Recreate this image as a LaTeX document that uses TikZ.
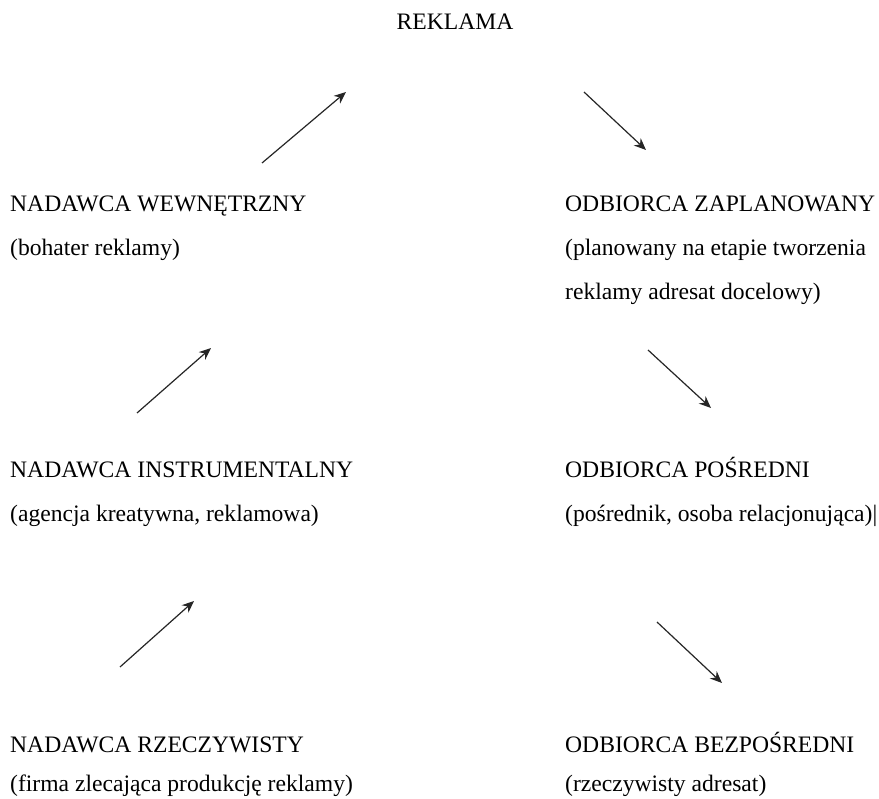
\documentclass[tikz,border=0pt]{standalone}
\usepackage{fontspec}
\setmainfont{Liberation Serif}
\usetikzlibrary{arrows.meta}

\def\xLeft{10}
\def\xRight{565}
\def\lineSkip{44}

\tikzset{
  label text/.style={anchor=base west, inner sep=0pt, font=\fontsize{23.6}{27}\selectfont},
  flow/.style={-{Stealth[length=12pt,width=10pt]}, line width=1.2pt, draw=black!85}
}

\begin{document}
\begin{tikzpicture}[x=1pt, y=-1pt]
      \useasboundingbox (0,0) rectangle (879,799);
      \fill[white] (0,0) rectangle (879,799);

      % title
      \node[label text, anchor=base] (reklama) at (455,30) {REKLAMA};

      % senders
      \node[label text] (nadWew) at (\xLeft,212) {NADAWCA WEWNĘTRZNY};
      \node[label text] (nadWewOpis) at (\xLeft,212+\lineSkip) {(bohater reklamy)};
      \node[label text] (nadIns) at (\xLeft,478) {NADAWCA INSTRUMENTALNY};
      \node[label text] (nadInsOpis) at (\xLeft,478+\lineSkip) {(agencja kreatywna, reklamowa)};
      \node[label text] (nadRze) at (\xLeft,752) {NADAWCA RZECZYWISTY};
      \node[label text] (nadRzeOpis) at (\xLeft,752+\lineSkip-5) {(firma zlecająca produkcję reklamy)};

      % receivers
      \node[label text] (odbZap) at (\xRight,212) {ODBIORCA ZAPLANOWANY};
      \node[label text] (odbZapOpis) at (\xRight,212+\lineSkip) {(planowany na etapie tworzenia};
      \node[label text] (odbZapOpisB) at (\xRight,212+2*\lineSkip) {reklamy adresat docelowy)};
      \node[label text] (odbPos) at (\xRight,478) {ODBIORCA POŚREDNI};
      \node[label text] (odbPosOpis) at (\xRight,478+\lineSkip) {(pośrednik, osoba relacjonująca)|};
      \node[label text] (odbBez) at (\xRight,752) {ODBIORCA BEZPOŚREDNI};
      \node[label text] (odbBezOpis) at (\xRight,752+\lineSkip-5) {(rzeczywisty adresat)};

      % arrow ends
      \coordinate (a1) at (262,163);  \coordinate (b1) at (346,92);
      \coordinate (a2) at (584,92);   \coordinate (b2) at (646,150);
      \coordinate (a3) at (137,413);  \coordinate (b3) at (211,348);
      \coordinate (a4) at (648,350);  \coordinate (b4) at (711,408);
      \coordinate (a5) at (120,667);  \coordinate (b5) at (194,601);
      \coordinate (a6) at (657,622);  \coordinate (b6) at (722,683);

      \foreach \i in {1,...,6} {
          \draw[flow] (a\i) -- (b\i);
      }
\end{tikzpicture}
\end{document}
